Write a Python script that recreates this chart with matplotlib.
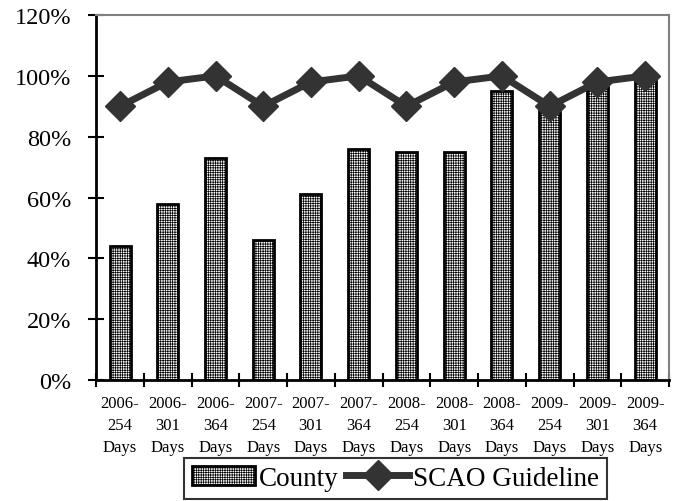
import matplotlib
matplotlib.use("Agg")
import matplotlib.pyplot as plt
import numpy as np
from matplotlib.ticker import FixedLocator, PercentFormatter

# ── Data ──────────────────────────────────────────────────────────────────────
categories = ["2006-\n254\nDays", "2006-\n301\nDays", "2006-\n364\nDays",
              "2007-\n254\nDays", "2007-\n301\nDays", "2007-\n364\nDays",
              "2008-\n254\nDays", "2008-\n301\nDays", "2008-\n364\nDays",
              "2009-\n254\nDays", "2009-\n301\nDays", "2009-\n364\nDays"]
county = [44, 58, 73, 46, 61, 76, 75, 75, 95, 90, 97, 100]
guideline = [90, 98, 100, 90, 98, 100, 90, 98, 100, 90, 98, 100]
y_ticks = [0, 20, 40, 60, 80, 100, 120]

plt.rcParams["font.family"] = ["Liberation Serif", "DejaVu Serif"]
plt.rcParams["hatch.linewidth"] = 0.5

fig = plt.figure(figsize=(6.82, 5.02), dpi=100)
ax = fig.add_axes([0.141, 0.241, 0.840, 0.727])

x = np.arange(len(categories))
bars = ax.bar(x, county, width=0.44, color="white", edgecolor="black",
              linewidth=2, hatch="+++++++", label="County", zorder=2)
line, = ax.plot(x, guideline, color="#333333", lw=5, marker="D", markersize=15,
                label="SCAO Guideline", zorder=3)

ax.set_xlim(-0.5, len(categories) - 0.5)
ax.set_ylim(0, 120)
ax.yaxis.set_major_locator(FixedLocator(y_ticks))
ax.yaxis.set_major_formatter(PercentFormatter(decimals=0))
ax.tick_params(axis="y", direction="inout", length=12, width=1.5,
               labelsize=17.5, pad=12)

ax.set_xticks(x)
ax.set_xticklabels(categories, fontsize=12, linespacing=1.47)
ax.tick_params(axis="x", which="major", length=0, pad=11)
ax.xaxis.set_minor_locator(FixedLocator(np.arange(-0.5, len(categories), 1)))
ax.tick_params(axis="x", which="minor", direction="inout", length=10, width=1.5)

for side in ["left", "bottom"]:
    ax.spines[side].set_linewidth(2)
    ax.spines[side].set_color("black")
for side in ["top", "right"]:
    ax.spines[side].set_linewidth(1.5)
    ax.spines[side].set_color("#808080")

leg = fig.legend([bars, line], ["County", "SCAO Guideline"],
                 loc="lower center", bbox_to_anchor=(0.58, 0.004), ncol=2,
                 fontsize=19.5, frameon=True, fancybox=False, edgecolor="black",
                 handlelength=2.3, handletextpad=0.15, columnspacing=0.3,
                 borderpad=0.3, borderaxespad=0)
leg.get_frame().set_linewidth(1.5)

fig.savefig("out.png", dpi=100)
